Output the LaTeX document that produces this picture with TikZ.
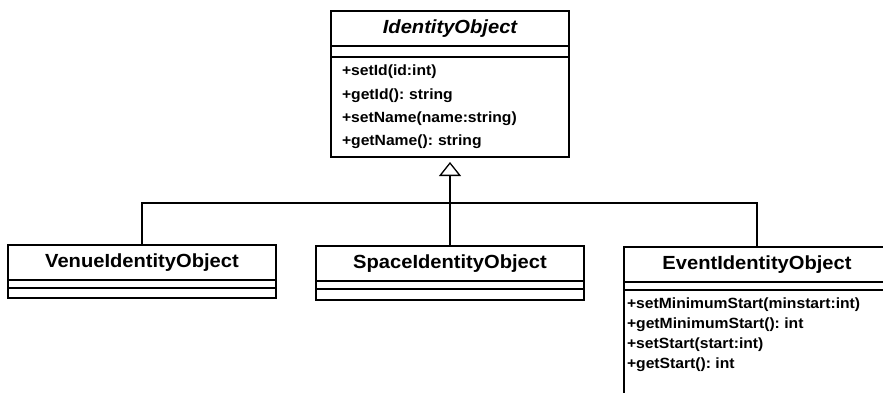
\documentclass[tikz,border=0pt]{standalone}
\usepackage{fontspec}
\newfontfamily\umlfont[FakeStretch=1.06]{Liberation Sans}
\frenchspacing
\usetikzlibrary{positioning, arrows.meta}

\tikzset{
    box/.style={draw, line width=1.3pt, inner sep=0pt, outer sep=0pt},
    namebox/.style={box, minimum height=35pt, font=\umlfont\bfseries\fontsize{19}{22}\selectfont},
    attrbox/.style={box, minimum height=8pt},
    opsbox/.style={box, align=left, font=\umlfont\bfseries\fontsize{14.8}{20}\selectfont},
    inherit/.style={line width=1.3pt, -{Triangle[open, length=14pt, width=22pt, line width=1.3pt]}, shorten >=5pt}
}

\begin{document}
\begin{tikzpicture}[x=1pt, y=-1pt]
    \clip (0,0) rectangle (883,392);

    % Parent class
    \node[namebox, minimum width=238pt, anchor=north west] (idobj) at (331,11) {\itshape IdentityObject};
    \node[attrbox, minimum width=238pt, minimum height=11pt, below=0pt of idobj] (idobj-attr) {};
    \node[opsbox, minimum width=238pt, minimum height=100pt, text width=216pt, inner xsep=11pt,
          font=\umlfont\bfseries\fontsize{14.8}{23.3}\selectfont, below=0pt of idobj-attr] (idobj-ops)
        {+setId(id:int)\\+getId(): string\\+setName(name:string)\\+getName(): string};

    % Child classes
    \node[namebox, minimum width=268pt, anchor=north west] (venue) at (8,245) {VenueIdentityObject};
    \node[attrbox, minimum width=268pt, below=0pt of venue] (venue-attr) {};
    \node[attrbox, minimum width=268pt, minimum height=10pt, below=0pt of venue-attr] (venue-ops) {};

    \node[namebox, minimum width=268pt, anchor=north west] (space) at (316,246) {SpaceIdentityObject};
    \node[attrbox, minimum width=268pt, below=0pt of space] (space-attr) {};
    \node[attrbox, minimum width=268pt, minimum height=11pt, below=0pt of space-attr] (space-ops) {};

    \node[namebox, minimum width=266pt, anchor=north west] (event) at (624,247) {EventIdentityObject};
    \node[attrbox, minimum width=266pt, below=0pt of event] (event-attr) {};
    \node[opsbox, minimum width=266pt, inner xsep=3pt, below=0pt of event-attr] (event-ops)
        {\parbox[c][130pt][t]{260pt}{\vspace{8pt}+setMinimumStart(minstart:int)\\+getMinimumStart(): int\\+setStart(start:int)\\+getStart(): int}};

    % Generalisation
    \coordinate (bus) at (space.north |- 0,203);
    \draw[line width=1.3pt] (venue.north) |- (bus) -| (event.north);
    \draw[inherit] (space.north) -- (idobj-ops.south);
\end{tikzpicture}
\end{document}
